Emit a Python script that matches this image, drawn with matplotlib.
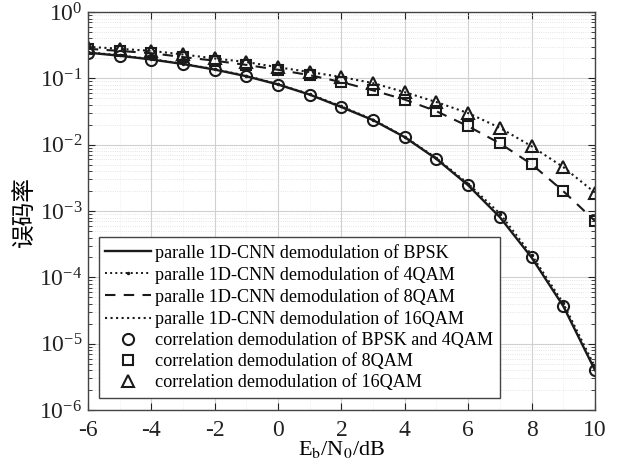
import numpy as np
import matplotlib
matplotlib.use("Agg")
import matplotlib.pyplot as plt
from matplotlib.ticker import LogLocator, NullFormatter, MultipleLocator

plt.rcParams['font.family'] = ['Liberation Serif', 'Noto Sans CJK SC']
plt.rcParams['mathtext.fontset'] = 'stix'
plt.rcParams['axes.unicode_minus'] = False

snr = [-6, -5, -4, -3, -2, -1, 0, 1, 2, 3, 4, 5, 6, 7, 8, 9, 10]

# network curves
cnn_bpsk = [0.245, 0.22, 0.193, 0.165, 0.136, 0.108, 0.081, 0.057, 0.037, 0.0235, 0.013, 0.0061, 0.00245, 0.00081, 0.0002, 3.7e-5, 4.0e-6]
cnn_4qam = [0.25, 0.223, 0.196, 0.167, 0.138, 0.11, 0.082, 0.058, 0.038, 0.024, 0.0132, 0.0063, 0.0026, 0.00092, 0.00022, 4.1e-5, 4.5e-6]
cnn_8qam = [0.28, 0.26, 0.24, 0.21, 0.185, 0.16, 0.135, 0.112, 0.088, 0.066, 0.048, 0.032, 0.019, 0.0105, 0.0051, 0.0020, 0.00071]
cnn_16qam = [0.30, 0.28, 0.26, 0.23, 0.20, 0.177, 0.147, 0.125, 0.105, 0.085, 0.062, 0.044, 0.030, 0.018, 0.0095, 0.0046, 0.0019]

# correlation demodulation markers
corr_bpsk = [0.24, 0.215, 0.19, 0.163, 0.135, 0.107, 0.08, 0.056, 0.037, 0.0235, 0.013, 0.0061, 0.00246, 0.00081, 0.0002, 3.7e-5, 4.0e-6]
corr_8qam = [0.28, 0.26, 0.24, 0.21, 0.185, 0.16, 0.135, 0.112, 0.088, 0.066, 0.048, 0.032, 0.019, 0.0105, 0.0051, 0.0020, 0.00071]
corr_16qam = [0.30, 0.28, 0.26, 0.23, 0.20, 0.177, 0.147, 0.125, 0.105, 0.085, 0.062, 0.044, 0.030, 0.018, 0.0095, 0.0046, 0.0019]

labels = ['paralle 1D-CNN demodulation of BPSK',
          'paralle 1D-CNN demodulation of 4QAM',
          'paralle 1D-CNN demodulation of 8QAM',
          'paralle 1D-CNN demodulation of 16QAM',
          'correlation demodulation of BPSK and 4QAM',
          'correlation demodulation of 8QAM',
          'correlation demodulation of 16QAM']

fig = plt.figure(figsize=(6.23, 4.65), dpi=100)
ax = fig.add_axes([0.141, 0.118, 0.814, 0.856])
c = '#1a1a1a'
ax.semilogy(snr, cnn_bpsk, '-', color=c, lw=1.7, label=labels[0])
ax.semilogy(snr, cnn_4qam, ':', color=c, lw=1.4, marker='.', ms=3, label=labels[1])
ax.semilogy(snr, cnn_8qam, '--', color=c, lw=1.5, dashes=(5, 4), label=labels[2])
ax.semilogy(snr, cnn_16qam, ':', color=c, lw=1.5, label=labels[3])
ax.semilogy(snr, corr_bpsk, 'o', color=c, mfc='none', ms=8, mew=1.5, label=labels[4])
ax.semilogy(snr, corr_8qam, 's', color=c, mfc='none', ms=6.5, mew=1.5, label=labels[5])
ax.semilogy(snr, corr_16qam, '^', color=c, mfc='none', ms=8.5, mew=1.5, label=labels[6])

ax.set_xlim(-6, 10)
ax.set_ylim(1e-6, 1)
ax.xaxis.set_major_locator(MultipleLocator(2))
ax.xaxis.set_minor_locator(MultipleLocator(1))
ax.yaxis.set_major_locator(LogLocator(base=10, numticks=10))
ax.yaxis.set_minor_locator(LogLocator(base=10, subs=np.arange(2, 10), numticks=100))
ax.yaxis.set_minor_formatter(NullFormatter())
ax.xaxis.set_minor_formatter(NullFormatter())
ax.grid(True, which='major', color='#d0d0d0', lw=0.8)
ax.grid(True, which='minor', axis='y', color='#dddddd', lw=0.6, ls=':')
ax.grid(True, which='minor', axis='x', color='#e6e6e6', lw=0.5, ls=':')
ax.tick_params(which='both', direction='in', top=True, right=True, labelsize=17, colors='#222222')
ax.tick_params(which='major', length=5)
ax.tick_params(which='minor', length=3)
ax.tick_params(axis='x', which='minor', length=0)
ax.tick_params(axis='x', which='major', pad=7)
ax.tick_params(axis='y', which='major', pad=4)
for s in ax.spines.values():
    s.set_color('#444444')
    s.set_linewidth(1.0)

ax.set_xlabel(r'E$_\mathrm{b}$/N$_0$/dB', fontsize=16, labelpad=-1)
ax.set_ylabel('误码率', fontsize=17, family=['Noto Sans CJK SC'], labelpad=2)

leg = ax.legend(loc='lower left', bbox_to_anchor=(0.022, 0.031), fontsize=13.1,
                frameon=True, fancybox=False, edgecolor='#444444', framealpha=1,
                handlelength=2.5, handletextpad=0.25, labelspacing=0.23,
                borderpad=0.35, borderaxespad=0)
leg.get_frame().set_linewidth(1.0)

fig.savefig('out.png', dpi=100)
